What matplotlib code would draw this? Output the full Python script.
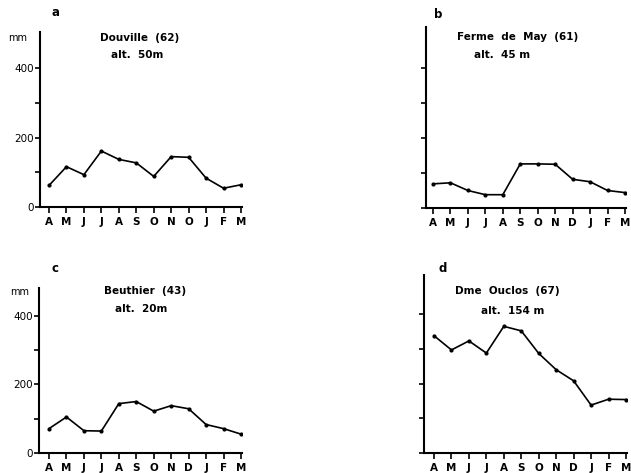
import matplotlib.pyplot as plt

W, H = 631, 473

# precipitation mm, months April -> March
months_a = ["A", "M", "J", "J", "A", "S", "O", "N", "O", "J", "F", "M"]
months = ["A", "M", "J", "J", "A", "S", "O", "N", "D", "J", "F", "M"]

douville = [62, 116, 93, 161, 137, 127, 88, 145, 143, 83, 54, 64]
ferme_may = [69, 72, 50, 38, 38, 126, 126, 125, 82, 75, 50, 44]
beuthier = [71, 105, 65, 64, 144, 150, 122, 138, 129, 83, 71, 55]
duclos = [338, 297, 323, 288, 365, 352, 287, 240, 208, 138, 155, 154]

letters = ["a", "b", "c", "d"]
titles = ["Douville  (62)", "Ferme  de  May  (61)", "Beuthier  (43)", "Dme  Ouclos  (67)"]
alts = ["alt.  50m", "alt.  45 m", "alt.  20m", "alt.  154 m"]
series = [douville, ferme_may, beuthier, duclos]
xlabels = [months_a, months, months, months]

# layout in pixels: left, bottom, top, first tick, last tick, px per mm, y labels
frames = [
    (40, 207, 32, 49, 241, 0.3475, True),
    (426, 208, 27, 433, 625, 0.350, False),
    (39, 453, 288, 49, 241, 0.343, True),
    (424, 453, 275, 434, 626, 0.347, False),
]
# text positions in pixels: letter, title, alt line
text_pos = [
    ((55, 13), (140, 38), (137, 55)),
    ((438, 14), (518, 37), (502, 55)),
    ((55, 269), (145, 291), (141, 309)),
    ((443, 268), (507, 291), (513, 311)),
]
mm_pos = [(18, 38), None, (20, 292), None]

fig = plt.figure(figsize=(W / 100, H / 100), dpi=100)
fig.patch.set_facecolor("white")


def px(x, y):
    return x / W, 1 - y / H


for i in range(4):
    left, bottom, top, t0, t1, scale, ylab = frames[i]
    step = (t1 - t0) / 11
    right = t1 + 1
    ax = fig.add_axes([left / W, 1 - bottom / H, (right - left) / W, (bottom - top) / H])
    ax.set_xlim(-(t0 - left) / step, 11 + (right - t1) / step)
    ax.set_ylim(0, (bottom - top) / scale)
    ax.plot(range(12), series[i], color="black", lw=1.2, marker="o", ms=2)

    for s in ["top", "right"]:
        ax.spines[s].set_visible(False)
    for s in ["left", "bottom"]:
        ax.spines[s].set_linewidth(1.5)

    ax.set_xticks(range(12))
    ax.set_xticklabels(xlabels[i], fontsize=7.5, fontweight="bold")
    ax.set_yticks([0, 100, 200, 300, 400])
    if ylab:
        ax.set_yticklabels(["0", "", "200", "", "400"], fontsize=7.5)
    else:
        ax.set_yticklabels([])
    ax.tick_params(axis="x", direction="out", length=4, width=1.2, pad=3)
    ax.tick_params(axis="y", direction="out", length=3.5, width=1.2, pad=1)

    lp, tp, ap = text_pos[i]
    fig.text(*px(*lp), letters[i], fontsize=8.5, fontweight="bold", ha="center", va="center")
    fig.text(*px(*tp), titles[i], fontsize=7.5, fontweight="bold", ha="center", va="center")
    fig.text(*px(*ap), alts[i], fontsize=7.5, fontweight="bold", ha="center", va="center")
    if mm_pos[i]:
        fig.text(*px(*mm_pos[i]), "mm", fontsize=7, ha="center", va="center")

fig.savefig("out.png", dpi=100)
